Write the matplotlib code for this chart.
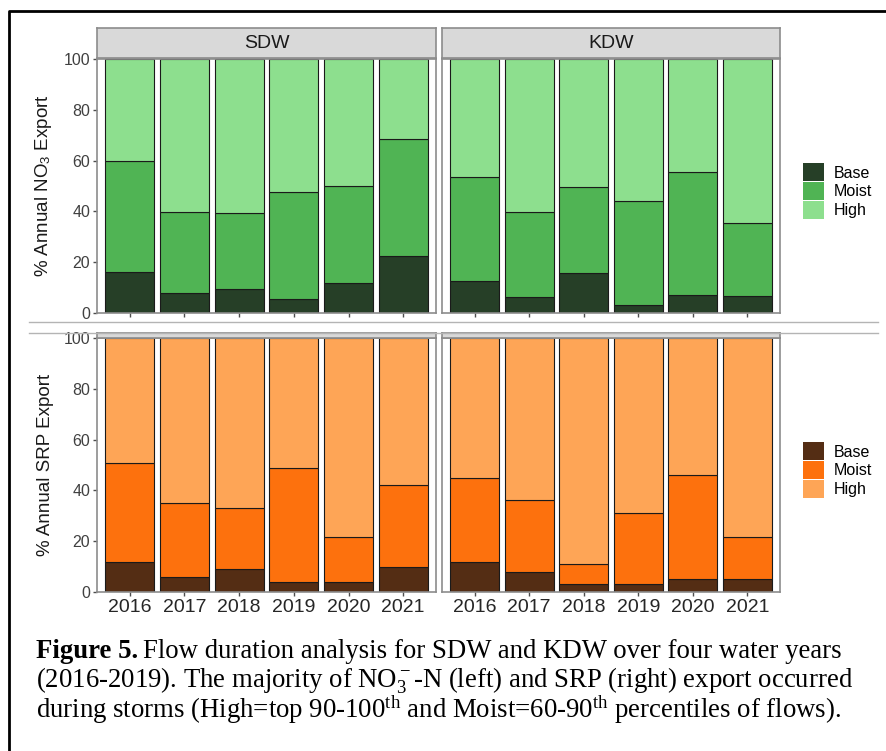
import numpy as np
import matplotlib
matplotlib.use("Agg")
import matplotlib.pyplot as plt
from matplotlib.lines import Line2D
from matplotlib.patches import Patch

plt.rcParams['font.family'] = ['Liberation Sans', 'DejaVu Sans']
plt.rcParams['mathtext.fontset'] = 'custom'
plt.rcParams['mathtext.rm'] = 'Liberation Serif'
plt.rcParams['mathtext.it'] = 'Liberation Serif:italic'
plt.rcParams['mathtext.bf'] = 'Liberation Serif:bold'
plt.rcParams['mathtext.sf'] = 'Liberation Sans'

# data: share of annual export (%) per flow class
years = ['2016', '2017', '2018', '2019', '2020', '2021']
levels = ['Base', 'Moist', 'High']

no3_sdw_base = [16.0, 8.0, 9.5, 5.5, 12.0, 22.6]
no3_sdw_moist = [44.0, 31.7, 29.7, 42.1, 38.0, 45.8]
no3_sdw_high = [40.0, 60.3, 60.8, 52.4, 50.0, 31.6]

no3_kdw_base = [12.6, 6.3, 15.8, 3.2, 7.1, 6.8]
no3_kdw_moist = [41.1, 33.4, 33.9, 40.9, 48.6, 28.5]
no3_kdw_high = [46.3, 60.3, 50.3, 55.9, 44.3, 64.7]

srp_sdw_base = [12.0, 5.9, 9.1, 3.8, 3.8, 9.9]
srp_sdw_moist = [38.7, 29.0, 23.8, 45.1, 18.0, 32.3]
srp_sdw_high = [49.3, 65.1, 67.1, 51.1, 78.2, 57.8]

srp_kdw_base = [12.0, 7.9, 3.0, 3.0, 5.1, 5.1]
srp_kdw_moist = [32.9, 28.2, 8.1, 28.0, 41.1, 16.6]
srp_kdw_high = [55.1, 63.9, 88.9, 69.0, 53.8, 78.3]

green = ['#263f27', '#50b454', '#8ddf8e']
orange = ['#542d14', '#fd710d', '#fea556']

W, H = 886, 751
fig = plt.figure(figsize=(W / 100, H / 100), dpi=100)


def box(x0, y0, x1, y1):
    # pixel box (y from top) -> figure fraction rect
    return [x0 / W, 1 - y1 / H, (x1 - x0) / W, (y1 - y0) / H]


def panel(rect, base, moist, high, colors, show_y, show_x):
    ax = fig.add_axes(rect)
    x = np.arange(1, len(years) + 1)
    bottom = np.zeros(len(years))
    for vals, c in zip([base, moist, high], colors):
        ax.bar(x, vals, 0.9, bottom=bottom, color=c, edgecolor='#1a1a1a', linewidth=0.8)
        bottom = bottom + np.array(vals)
    ax.set_xlim(0.4, 6.6)
    ax.set_ylim(0, 100)
    ax.set_xticks(x)
    ax.set_xticklabels(years)
    ax.set_yticks([0, 20, 40, 60, 80, 100])
    for s in ax.spines.values():
        s.set_color('#8c8c8c')
        s.set_linewidth(1.2)
    ax.tick_params(axis='both', length=3, width=1, color='#4d4d4d', pad=2)
    ax.tick_params(axis='y', labelsize=11.5, labelcolor='#404040')
    ax.tick_params(axis='x', labelsize=14, labelcolor='#262626', labelbottom=show_x)
    if not show_y:
        ax.tick_params(axis='y', left=False, labelleft=False)
    return ax


def strip(x0, y0, x1, y1, label=None):
    s = fig.add_axes(box(x0, y0, x1, y1))
    s.set_facecolor('#d9d9d9')
    s.set_xticks([])
    s.set_yticks([])
    for sp in s.spines.values():
        sp.set_color('#8c8c8c')
        sp.set_linewidth(1.2)
    if label:
        s.text(0.5, 0.5, label, ha='center', va='center', fontsize=14, color='#1a1a1a')
    return s


# top chart (NO3)
a1 = panel(box(97, 59, 436, 313), no3_sdw_base, no3_sdw_moist, no3_sdw_high, green, True, False)
a2 = panel(box(442, 59, 780, 313), no3_kdw_base, no3_kdw_moist, no3_kdw_high, green, False, False)
strip(97, 28, 436, 58, 'SDW')
strip(442, 28, 780, 58, 'KDW')
a1.set_ylabel(r'% Annual NO$_\mathsf{3}$ Export', fontsize=13.5, color='#1a1a1a')
a1.yaxis.set_label_coords((54 - 97) / 339, 0.5)

# bottom chart (SRP)
b1 = panel(box(97, 338, 436, 592), srp_sdw_base, srp_sdw_moist, srp_sdw_high, orange, True, True)
b2 = panel(box(442, 338, 780, 592), srp_kdw_base, srp_kdw_moist, srp_kdw_high, orange, False, True)
strip(97, 333, 436, 338)
strip(442, 333, 780, 338)
b1.set_ylabel('% Annual SRP Export', fontsize=13.5, color='#1a1a1a')
b1.yaxis.set_label_coords((54 - 97) / 339, 0.5)

# legends
for cols, yc in [(green, 191), (orange, 470)]:
    handles = [Patch(facecolor=c, edgecolor='none') for c in cols]
    fig.legend(handles, levels, loc='center left', bbox_to_anchor=(803 / W, 1 - yc / H),
               frameon=False, fontsize=11.5, handlelength=1.3, handleheight=1.35,
               labelspacing=0.05, handletextpad=0.6, borderpad=0, borderaxespad=0)

# separator lines where the two charts were pasted together
for yy in [321.5, 332.5]:
    fig.add_artist(Line2D([29 / W, 878 / W], [1 - yy / H] * 2, color='#b4b4b4', lw=1))

# outer frame (left and top edges visible)
fig.add_artist(Line2D([9 / W, 9 / W, 1], [0, 1 - 10.5 / H, 1 - 10.5 / H], color='black', lw=2))

# caption
cap = fig.add_axes([0, 0, 1, 1])
cap.axis('off')
cap.set_xlim(0, W)
cap.set_ylim(H, 0)
serif = 'Liberation Serif'
fs = 19.3
t1 = cap.text(36, 658, 'Figure 5.', fontsize=fs, family=serif, weight='bold', va='baseline')
fig.canvas.draw()
x_end = cap.transData.inverted().transform(t1.get_window_extent().get_points())[1, 0]
cap.text(x_end + 5, 658, 'Flow duration analysis for SDW and KDW over four water years',
         fontsize=fs, family=serif, va='baseline')
cap.text(36, 688, r'(2016-2019). The majority of NO$_3^-$-N (left) and SRP (right) export occurred',
         fontsize=fs, family=serif, va='baseline')
cap.text(36, 718, r'during storms (High=top 90-100$^{\mathrm{th}}$ and Moist=60-90$^{\mathrm{th}}$ percentiles of flows).',
         fontsize=fs, family=serif, va='baseline')

fig.savefig('out.png', dpi=100)
